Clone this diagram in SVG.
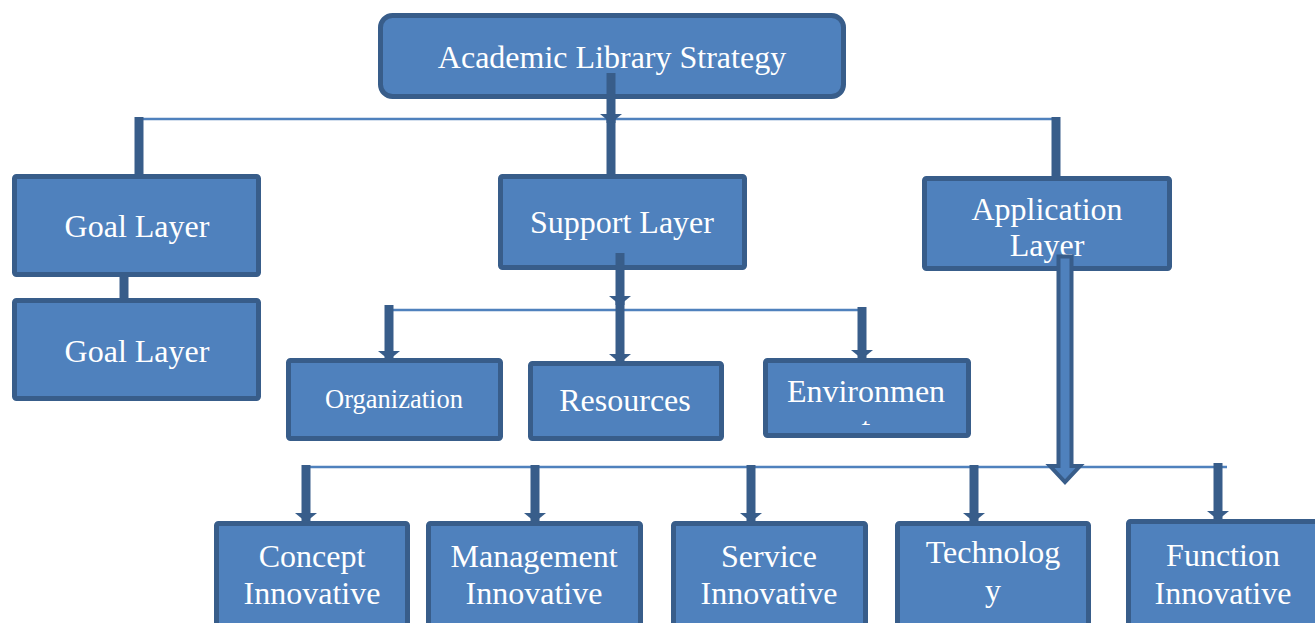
<svg xmlns="http://www.w3.org/2000/svg" width="1315" height="623" viewBox="0 0 1315 623">
<style>
.box{fill:#4f81bd;stroke:#385d8a;stroke-width:5}
.t{fill:#fff;font-family:"Liberation Serif","Times New Roman",serif;font-size:32px;text-anchor:middle}
.s{font-size:26.5px}
.bar{stroke:#385d8a;stroke-width:9;fill:none}
.thin{stroke:#4f81bd;stroke-width:2.5;fill:none}
</style>
<defs>
<marker id="ah" markerUnits="userSpaceOnUse" markerWidth="10" markerHeight="22" refX="9" refY="11" orient="auto" viewBox="0 0 10 22">
<path d="M0,0 L9,11 L0,22 Z" fill="#385d8a"/>
</marker>
<clipPath id="envclip"><rect x="765" y="360" width="205" height="65"/></clipPath>
</defs>
<rect width="1315" height="623" fill="#fff"/>

<g id="connectors">
<line class="thin" x1="139" y1="119" x2="1058" y2="119"/>
<line class="thin" x1="385" y1="310" x2="864" y2="310"/>
<line class="thin" x1="302" y1="467" x2="1227" y2="467"/>
<line class="bar" x1="139" y1="117" x2="139" y2="177"/>
<line class="bar" x1="1056" y1="117" x2="1056" y2="179"/>
<line class="bar" x1="611" y1="119" x2="611" y2="177"/>
<line class="bar" x1="124" y1="253" x2="124" y2="301"/>
<line class="bar" x1="389" y1="305" x2="389" y2="360" marker-end="url(#ah)"/>
<line class="bar" x1="862" y1="307" x2="862" y2="359" marker-end="url(#ah)"/>
<line class="bar" x1="306" y1="465" x2="306" y2="522" marker-end="url(#ah)"/>
<line class="bar" x1="535" y1="465" x2="535" y2="522" marker-end="url(#ah)"/>
<line class="bar" x1="751" y1="465" x2="751" y2="522" marker-end="url(#ah)"/>
<line class="bar" x1="974" y1="465" x2="974" y2="522" marker-end="url(#ah)"/>
<line class="bar" x1="1218" y1="463" x2="1218" y2="520" marker-end="url(#ah)"/>
</g>

<g id="n-top">
<rect class="box" x="380.5" y="15.5" width="463" height="81" rx="12"/>
<text class="t" x="612" y="68">Academic Library Strategy</text>
</g>
<g id="n-goal1">
<rect class="box" x="14.5" y="176.5" width="244" height="98" rx="2"/>
<text class="t" x="137" y="237">Goal Layer</text>
</g>
<g id="n-goal2">
<rect class="box" x="14.5" y="300.5" width="244" height="98" rx="2"/>
<text class="t" x="137" y="362">Goal Layer</text>
</g>
<g id="n-support">
<rect class="box" x="500.5" y="176.5" width="244" height="91" rx="2"/>
<text class="t" x="622" y="233">Support Layer</text>
</g>
<g id="n-app">
<rect class="box" x="924.5" y="178.5" width="245" height="90" rx="2"/>
<text class="t" x="1047" y="220">Application</text>
<text class="t" x="1047" y="256">Layer</text>
</g>
<g id="n-org">
<rect class="box" x="288.5" y="360.5" width="212" height="78" rx="2"/>
<text class="t s" x="394" y="408">Organization</text>
</g>
<g id="n-res">
<rect class="box" x="530.5" y="363.5" width="191" height="75" rx="2"/>
<text class="t" x="625" y="411">Resources</text>
</g>
<g id="n-env">
<rect class="box" x="765.5" y="360.5" width="203" height="75" rx="2"/>
<text class="t" x="866" y="402">Environmen</text>
<text class="t" x="866" y="439" clip-path="url(#envclip)">t</text>
</g>
<g id="n-concept">
<rect class="box" x="216.5" y="523.5" width="191" height="110" rx="2"/>
<text class="t" x="312" y="567">Concept</text>
<text class="t" x="312" y="604">Innovative</text>
</g>
<g id="n-mgmt">
<rect class="box" x="428.5" y="523.5" width="212" height="110" rx="2"/>
<text class="t" x="534" y="567">Management</text>
<text class="t" x="534" y="604">Innovative</text>
</g>
<g id="n-service">
<rect class="box" x="673.5" y="523.5" width="192" height="110" rx="2"/>
<text class="t" x="769" y="567">Service</text>
<text class="t" x="769" y="604">Innovative</text>
</g>
<g id="n-tech">
<rect class="box" x="897.5" y="523.5" width="191" height="110" rx="2"/>
<text class="t" x="993" y="563">Technolog</text>
<text class="t" x="993" y="601">y</text>
</g>
<g id="n-func">
<rect class="box" x="1128.5" y="521.5" width="195" height="110" rx="2"/>
<text class="t" x="1223" y="566">Function</text>
<text class="t" x="1223" y="604">Innovative</text>
</g>

<g id="connectors-top">
<line class="bar" x1="611" y1="73" x2="611" y2="123" marker-end="url(#ah)"/>
<line class="bar" x1="620" y1="253" x2="620" y2="305" marker-end="url(#ah)"/>
<line class="bar" x1="620" y1="300" x2="620" y2="363" marker-end="url(#ah)"/>
<path d="M1058.5,256.5 L1071.5,256.5 L1071.5,466 L1080,466 L1065,482 L1050,466 L1058.5,466 Z" fill="#4f81bd" stroke="#385d8a" stroke-width="4"/>
</g>
</svg>
